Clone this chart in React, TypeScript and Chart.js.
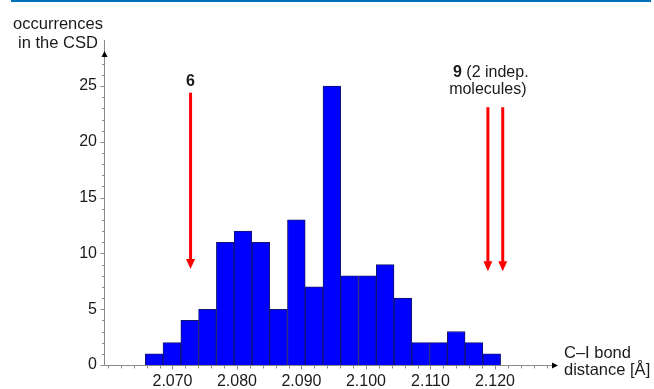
import React, { useEffect, useRef } from "react";
import { Chart, registerables } from "chart.js";

Chart.register(...registerables);

// C–I bond length bins (Å, bin centres) and the number of CSD entries in each bin
const binCentres = [
  2.06716, 2.06991, 2.07267, 2.07542, 2.07818, 2.08093, 2.08369, 2.08644, 2.0892, 2.09195,
  2.09471, 2.09746, 2.10022, 2.10297, 2.10573, 2.10848, 2.11124, 2.11399, 2.11675, 2.1195,
];
const occurrences = [1, 2, 4, 5, 11, 12, 11, 5, 13, 7, 25, 8, 8, 9, 6, 2, 2, 3, 2, 1];

// Labelled ticks on each axis
const xTickLabels = ["2.070", "2.080", "2.090", "2.100", "2.110", "2.120"];
const yTickLabels = ["0", "5", "10", "15", "20", "25"];

// Measured C–I distances: compound 6, and compound 9 (two independent molecules)
const compound6Distances = [2.0728];
const compound9Distances = [2.1189, 2.1212];

const FONT = '"Liberation Sans", Arial, Helvetica, sans-serif';
const TEXT = "#1a1a1a";
const AXIS = "#8a8a8a";
const RED = "#ff0000";
const X_MINOR_STEP = 0.002;

function drawRedArrow(ctx: CanvasRenderingContext2D, x: number, yTop: number, yTip: number) {
  const head = 10;
  const half = 4.5;
  ctx.strokeStyle = RED;
  ctx.fillStyle = RED;
  ctx.lineWidth = 3;
  ctx.beginPath();
  ctx.moveTo(x, yTop);
  ctx.lineTo(x, yTip - head + 1);
  ctx.stroke();
  ctx.beginPath();
  ctx.moveTo(x - half, yTip - head);
  ctx.lineTo(x + half, yTip - head);
  ctx.lineTo(x, yTip);
  ctx.closePath();
  ctx.fill();
}

const decorations = {
  id: "decorations",
  beforeDraw(chart: any) {
    const { ctx } = chart;
    ctx.save();
    ctx.fillStyle = "#ffffff";
    ctx.fillRect(0, 0, chart.width, chart.height);
    // rule along the top edge
    ctx.fillStyle = "#0072bc";
    ctx.fillRect(11, 0, 640, 2);
    ctx.restore();
  },
  afterDraw(chart: any) {
    const { ctx, chartArea, scales } = chart;
    const xs = scales.x;
    const ys = scales.y;
    const ax = Math.round(chartArea.left) + 0.5;
    const ay = Math.round(chartArea.bottom) + 0.5;

    ctx.save();

    // axis lines
    ctx.strokeStyle = AXIS;
    ctx.lineWidth = 1;
    ctx.beginPath();
    ctx.moveTo(ax, ay);
    ctx.lineTo(ax, chartArea.top - 14);
    ctx.moveTo(ax, ay);
    ctx.lineTo(chartArea.right - 2, ay);
    ctx.stroke();

    // tick marks: labelled x ticks plus minor ones in between
    ctx.beginPath();
    xs.ticks.forEach((t: any) => {
      for (let k = 0; k < 5; k++) {
        const v = t.value + k * X_MINOR_STEP;
        if (v < xs.min || v > xs.max - X_MINOR_STEP / 2) continue;
        const px = Math.round(xs.getPixelForValue(v)) + 0.5;
        const len = k === 0 && t.label ? 4 : 3;
        ctx.moveTo(px, ay);
        ctx.lineTo(px, ay + len);
      }
    });
    ys.ticks.forEach((t: any) => {
      const py = Math.round(ys.getPixelForValue(t.value)) + 0.5;
      const len = t.label ? 4 : 2.5;
      ctx.moveTo(ax - len, py);
      ctx.lineTo(ax, py);
    });
    ctx.stroke();

    // arrow heads on the axes
    ctx.fillStyle = "#000000";
    ctx.beginPath();
    ctx.moveTo(ax, chartArea.top - 3);
    ctx.lineTo(ax - 3, chartArea.top + 3);
    ctx.lineTo(ax + 3, chartArea.top + 3);
    ctx.closePath();
    ctx.fill();
    ctx.beginPath();
    ctx.moveTo(chartArea.right + 2, ay);
    ctx.lineTo(chartArea.right - 4, ay - 3);
    ctx.lineTo(chartArea.right - 4, ay + 3);
    ctx.closePath();
    ctx.fill();

    // red markers for the measured distances
    compound6Distances.forEach((d) => {
      drawRedArrow(ctx, xs.getPixelForValue(d), ys.getPixelForValue(24.4), ys.getPixelForValue(8.6));
    });
    compound9Distances.forEach((d) => {
      drawRedArrow(ctx, xs.getPixelForValue(d), ys.getPixelForValue(23.1), ys.getPixelForValue(8.4));
    });

    // marker captions
    ctx.fillStyle = TEXT;
    ctx.textBaseline = "alphabetic";
    ctx.textAlign = "center";
    ctx.font = `bold 16px ${FONT}`;
    ctx.fillText("6", xs.getPixelForValue(compound6Distances[0]), 86);

    const mid9 =
      (xs.getPixelForValue(compound9Distances[0]) +
        xs.getPixelForValue(compound9Distances[compound9Distances.length - 1])) /
      2;
    ctx.font = `bold 16px ${FONT}`;
    const w9 = ctx.measureText("9").width;
    ctx.font = `16px ${FONT}`;
    const wRest = ctx.measureText(" (2 indep.").width;
    const start = mid9 - 4.5 - (w9 + wRest) / 2;
    ctx.textAlign = "left";
    ctx.font = `bold 16px ${FONT}`;
    ctx.fillText("9", start, 77);
    ctx.font = `16px ${FONT}`;
    ctx.fillText(" (2 indep.", start + w9, 77);
    ctx.textAlign = "center";
    ctx.fillText("molecules)", mid9 - 7.5, 94);

    // axis titles
    ctx.font = `16.5px ${FONT}`;
    ctx.textAlign = "center";
    ctx.fillText("occurrences", 58, 29);
    ctx.fillText("in the CSD", 58, 48);
    ctx.textAlign = "left";
    ctx.fillText("C\u2013I bond", 564, 358);
    ctx.fillText("distance [\u00c5]", 564, 375);

    ctx.restore();
  },
};

export default function App() {
  const canvasRef = useRef<HTMLCanvasElement | null>(null);

  useEffect(() => {
    const canvas = canvasRef.current;
    if (!canvas) return;

    const chart = new Chart(canvas, {
      type: "bar",
      data: {
        datasets: [
          {
            label: "occurrences",
            data: binCentres.map((x, i) => ({ x, y: occurrences[i] })),
            backgroundColor: "#0000ff",
            borderColor: "#14146e",
            borderWidth: 1,
            barPercentage: 1,
            categoryPercentage: 1,
          },
        ],
      },
      options: {
        responsive: false,
        animation: false,
        devicePixelRatio: 1,
        layout: { padding: { left: 0, right: 98, top: 54, bottom: 0 } },
        plugins: {
          legend: { display: false },
          tooltip: { enabled: false },
          title: { display: false },
        },
        scales: {
          x: {
            type: "linear",
            offset: false,
            min: 2.05938,
            max: 2.12946,
            grid: { display: false, drawTicks: false, offset: false },
            border: { display: false },
            ticks: {
              stepSize: 0.01,
              includeBounds: false,
              autoSkip: false,
              maxRotation: 0,
              padding: 7,
              color: TEXT,
              font: { family: FONT, size: 16 },
              callback: (v: any) => {
                const s = Number(v).toFixed(3);
                return xTickLabels.includes(s) ? s : "";
              },
            },
            afterFit: (scale: any) => {
              scale.height = 24;
            },
          },
          y: {
            type: "linear",
            min: 0,
            max: 27.87,
            grid: { display: false, drawTicks: false },
            border: { display: false },
            ticks: {
              stepSize: 1,
              includeBounds: false,
              autoSkip: false,
              padding: 7,
              color: TEXT,
              font: { family: FONT, size: 16 },
              callback: (v: any) => {
                const s = String(Math.round(Number(v)));
                return yTickLabels.includes(s) ? s : "";
              },
            },
            afterFit: (scale: any) => {
              scale.width = 104;
            },
          },
        },
      },
      plugins: [decorations],
    });

    return () => {
      chart.destroy();
    };
  }, []);

  return (
    <div style={{ position: "absolute", left: 0, top: 0, width: 654, height: 389, background: "#fff" }}>
      <canvas ref={canvasRef} width={654} height={389} style={{ display: "block" }} />
    </div>
  );
}
